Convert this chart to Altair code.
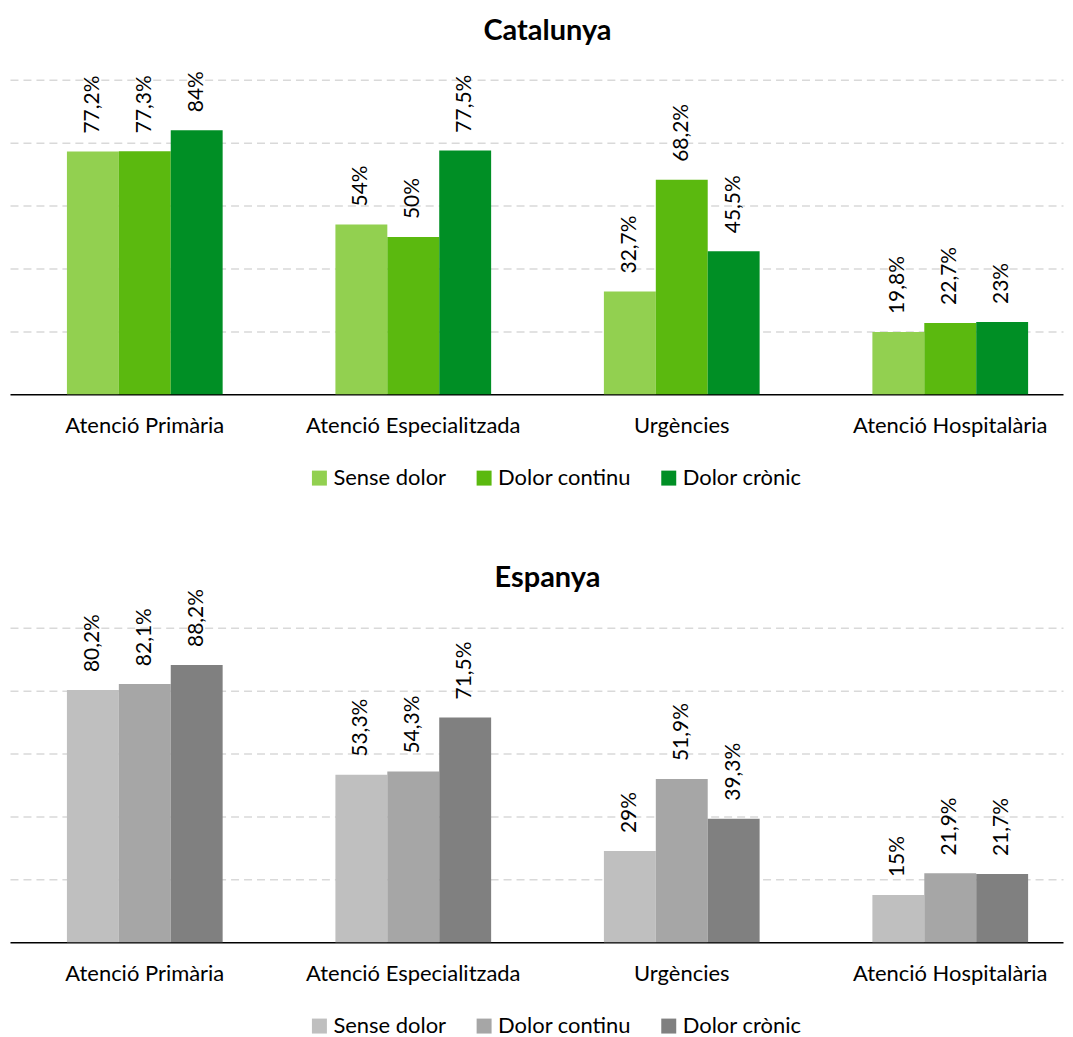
import altair as alt
import pandas as pd

categories = ["Atenció Primària", "Atenció Especialitzada", "Urgències", "Atenció Hospitalària"]
series = ["Sense dolor", "Dolor continu", "Dolor crònic"]

cat_sense = [77.2, 54, 32.7, 19.8]
cat_continu = [77.3, 50, 68.2, 22.7]
cat_cronic = [84, 77.5, 45.5, 23]

esp_sense = [80.2, 53.3, 29, 15]
esp_continu = [82.1, 54.3, 51.9, 21.9]
esp_cronic = [88.2, 71.5, 39.3, 21.7]

green_colors = ["#92D050", "#5BB90F", "#008F25"]
gray_colors = ["#BFBFBF", "#A6A6A6", "#808080"]

FONT = "Lato"


def fmt(v):
    return f"{v:g}".replace(".", ",") + "%"


def make_df(lists):
    rows = []
    for s, vals in zip(series, lists):
        for c, v in zip(categories, vals):
            rows.append({"cat": c, "ser": s, "val": v, "lab": fmt(v)})
    return pd.DataFrame(rows)


def panel(title, lists, colors, title_offset):
    df = make_df(lists)
    base = alt.Chart(df).encode(
        x=alt.X(
            "cat:N", sort=categories,
            scale=alt.Scale(paddingInner=0.42, paddingOuter=0.171, align=0.62),
            axis=alt.Axis(title=None, labelAngle=0, ticks=False, labelFontSize=22,
                          labelPadding=21, labelColor="#000", domainColor="#000",
                          domainWidth=1.5, labelFont=FONT, grid=False, labelLimit=400),
        ),
        xOffset=alt.XOffset("ser:N", sort=series,
                            scale=alt.Scale(paddingInner=0, paddingOuter=0)),
        y=alt.Y(
            "val:Q", scale=alt.Scale(domain=[0, 100]),
            axis=alt.Axis(title=None, labels=False, ticks=False, domain=False,
                          values=[20, 40, 60, 80, 100], gridDash=[8, 5],
                          gridColor="#D9D9D9", gridWidth=1.5),
        ),
    )
    bars = base.mark_bar().encode(
        color=alt.Color(
            "ser:N", sort=series,
            scale=alt.Scale(domain=series, range=colors),
            legend=alt.Legend(title=None, orient="none", direction="horizontal",
                              legendX=299, legendY=388,
                              symbolType="square", symbolSize=225, symbolStrokeWidth=0,
                              labelFontSize=22, labelFont=FONT, labelColor="#000",
                              labelOffset=3, columnPadding=26, labelLimit=300),
        )
    )
    labels = base.mark_text(angle=270, align="left", baseline="middle", dx=18,
                            fontSize=21, font=FONT, color="#000").encode(text="lab:N")
    return alt.layer(bars, labels).properties(
        width=1055, height=315,
        title=alt.TitleParams(title, fontSize=29, font=FONT, fontWeight="bold",
                              anchor="middle", color="#000", offset=title_offset, dx=11),
    )


chart = alt.vconcat(
    panel("Catalunya", [cat_sense, cat_continu, cat_cronic], green_colors, 25),
    panel("Espanya", [esp_sense, esp_continu, esp_cronic], gray_colors, -4),
    spacing=75,
).resolve_scale(color="independent").properties(
    padding={"left": 2, "right": 2, "top": 8, "bottom": 20}
).configure_view(stroke=None)

chart.save("out.html", embed_options={"renderer": "svg", "actions": False})
